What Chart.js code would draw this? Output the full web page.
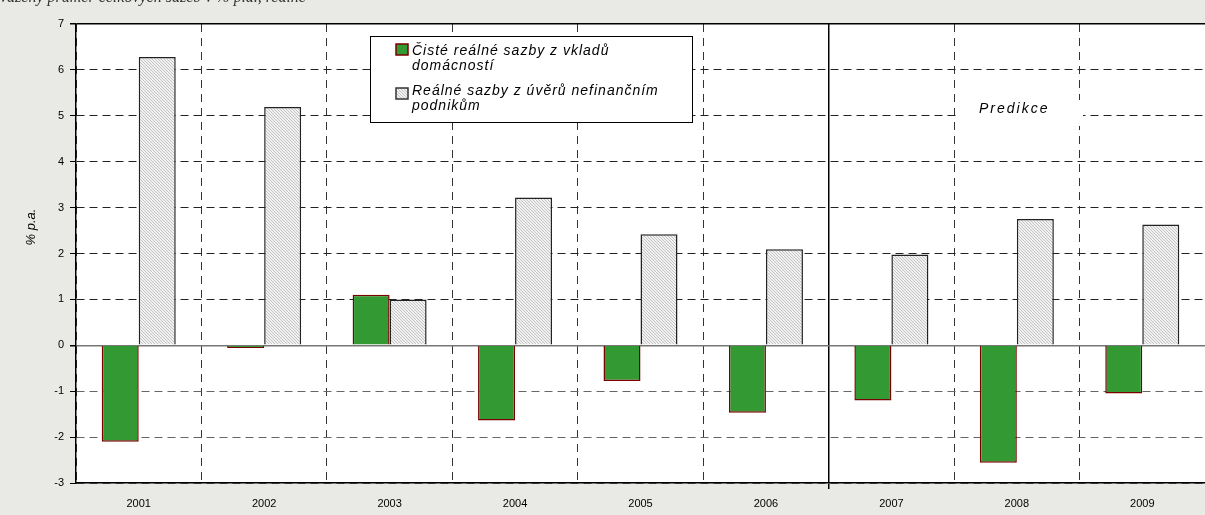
<!DOCTYPE html>
<html>
<head>
<meta charset="utf-8">
<script src="https://cdn.jsdelivr.net/npm/chart.js@4"></script>
<style>
  html,body{margin:0;padding:0;background:#e9e9e6;}
  #wrap{width:1205px;height:515px;position:relative;}
</style>
</head>
<body>
<div id="wrap"><canvas id="ratesChart"></canvas></div>
<script>
// data
const years = ['2001','2002','2003','2004','2005','2006','2007','2008','2009'];
const depositRates = [-2.1, -0.06, 1.1, -1.64, -0.78, -1.47, -1.2, -2.56, -1.05];
const loanRates = [6.28, 5.19, 1.0, 3.22, 2.42, 2.09, 1.98, 2.75, 2.63];
const depositLabel = ['Čisté reálné sazby z vkladů', 'domácností'];
const loanLabel = ['Reálné sazby z úvěrů nefinančním', 'podnikům'];
const yTitle = '% p.a.';
const forecastText = 'Predikce';
const topNote = 'vážený průměr celkových sazeb v % p.a., reálně';

const greenFill = '#339933';
const greenEdge = '#7a0000';

function makeHatch(){
  const c = document.createElement('canvas');
  c.width = 3; c.height = 3;
  const g = c.getContext('2d');
  g.fillStyle = '#f1f1f1';
  g.fillRect(0,0,3,3);
  g.fillStyle = '#c4c4c4';
  // thin "\" diagonal
  g.fillRect(0,0,1,1);
  g.fillRect(1,1,1,1);
  g.fillRect(2,2,1,1);
  return g.createPattern(c,'repeat');
}
const hatch = makeHatch();

const backdrop = {
  id:'backdrop',
  beforeDraw(chart){
    const {ctx, chartArea:a} = chart;
    ctx.save();
    ctx.fillStyle = '#e9e9e6';
    ctx.fillRect(0,0,chart.width,chart.height);
    ctx.fillStyle = '#ffffff';
    ctx.fillRect(a.left,a.top,a.right-a.left,a.bottom-a.top);
    // clipped note at the very top
    ctx.font = 'italic 16px "Liberation Serif"';
    ctx.fillStyle = '#333';
    ctx.textBaseline = 'alphabetic';
    ctx.fillText(topNote, 0, 2);
    // y title
    ctx.translate(31,227);
    ctx.rotate(-Math.PI/2);
    ctx.font = 'italic 13px "Liberation Sans"';
    ctx.fillStyle = '#000';
    ctx.textAlign = 'center';
    ctx.textBaseline = 'middle';
    ctx.fillText(yTitle,0,0);
    ctx.restore();
  }
};

const overlay = {
  id:'overlay',
  afterDatasetsDraw(chart){
    const ctx = chart.ctx;
    ctx.save();
    ctx.textBaseline = 'alphabetic';
    // forecast label box
    ctx.fillStyle = '#fff';
    ctx.fillRect(960,100,123,26);
    ctx.fillStyle = '#000';
    ctx.font = 'italic 14px "Liberation Sans"';
    ctx.letterSpacing = '2px';
    ctx.textAlign = 'left';
    ctx.fillText(forecastText, 979, 113);

    // legend
    ctx.fillStyle = '#fff';
    ctx.fillRect(370,36,323,87);
    ctx.strokeStyle = '#000';
    ctx.lineWidth = 1;
    ctx.strokeRect(370.5,36.5,322,86);

    ctx.fillStyle = greenFill;
    ctx.fillRect(396,44,12,11);
    ctx.strokeStyle = greenEdge;
    ctx.lineWidth = 1.5;
    ctx.strokeRect(396,44,12,11);

    ctx.fillStyle = hatch;
    ctx.fillRect(396,88,12,11);
    ctx.strokeStyle = '#333';
    ctx.strokeRect(396,88,12,11);

    ctx.fillStyle = '#000';
    ctx.font = 'italic 14px "Liberation Sans"';
    ctx.letterSpacing = '1px';
    ctx.fillText(depositLabel[0], 412, 55);
    ctx.fillText(depositLabel[1], 412, 70);
    ctx.fillText(loanLabel[0], 412, 95);
    ctx.fillText(loanLabel[1], 412, 110);
    ctx.restore();
  }
};

new Chart(document.getElementById('ratesChart'), {
  type:'bar',
  data:{
    labels: years,
    datasets:[{
      label: depositLabel.join(' '),
      data: depositRates,
      backgroundColor: greenFill,
      borderColor: greenEdge,
      borderWidth: 1.5
    },{
      label: loanLabel.join(' '),
      data: loanRates,
      backgroundColor: hatch,
      borderColor: '#222',
      borderWidth: 1.5
    }]
  },
  options:{
    responsive:true,
    maintainAspectRatio:false,
    animation:false,
    layout:{padding:{top:24,right:-3,left:0,bottom:0}},
    plugins:{legend:{display:false},tooltip:{enabled:false}},
    datasets:{bar:{categoryPercentage:0.59,barPercentage:1}},
    scales:{
      x:{
        grid:{
          offset:true,
          color:(c)=> c.index===6 ? '#000' : '#333',
          lineWidth:(c)=> c.index===6 ? 1.5 : 1,
          tickColor:(c)=> c.index===6 ? '#000' : 'rgba(0,0,0,0)',
          tickLength:6
        },
        border:{
          display:true,color:'#000',width:1.5,
          dash:(c)=> c.index===6 ? [] : [8,6]
        },
        ticks:{
          color:'#000',padding:8,
          font:{family:'"Liberation Sans"',size:11}
        },
        afterFit(s){ s.height = 32; }
      },
      y:{
        min:-3,max:7,
        ticks:{
          stepSize:1,color:'#000',padding:6,
          font:{family:'"Liberation Sans"',size:11}
        },
        grid:{
          color:(c)=>{
            if(!c.tick) return '#222';
            if(c.tick.value===7) return '#000';
            if(c.tick.value===0) return '#777';
            return c.tick.value<0 ? '#666' : '#222';
          },
          lineWidth:(c)=> c.tick && (c.tick.value===0 || c.tick.value===7) ? 1.5 : 1,
          tickColor:'#000',
          tickLength:6,
          tickBorderDash:[]
        },
        border:{
          display:true,color:'#000',width:1.5,
          dash:(c)=> (c.tick && (c.tick.value===0 || c.tick.value===7)) ? [] : [8,5]
        },
        afterFit(s){ s.width = 76; }
      }
    }
  },
  plugins:[backdrop, overlay]
});
</script>
</body>
</html>
